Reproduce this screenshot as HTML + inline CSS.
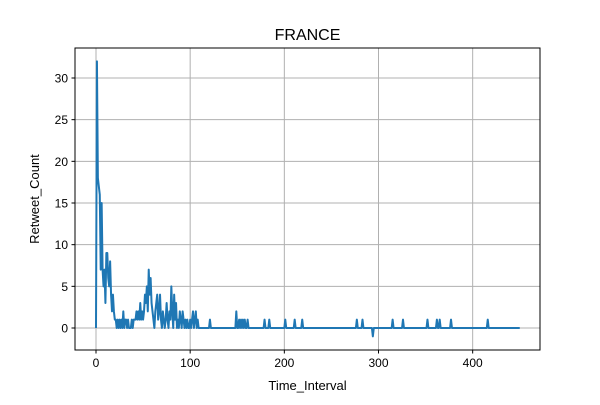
<!DOCTYPE html>
<html><head><meta charset="utf-8"><style>
body{margin:0;background:#fff}
svg text{font-family:"Liberation Sans","DejaVu Sans",sans-serif;fill:#000}
</style></head><body>
<svg id="chart" width="600" height="400" xmlns="http://www.w3.org/2000/svg">
<rect width="600" height="400" fill="#fff"/>
<g id="grid"></g><g id="ticks"></g><g id="series"></g>
<rect x="75" y="48" width="465" height="302" fill="none" stroke="#000" stroke-width="1"/>
<text x="307.5" y="40" text-anchor="middle" font-size="16">FRANCE</text>
<text x="307.5" y="390" text-anchor="middle" font-size="13">Time_Interval</text>
<text x="39" y="199" text-anchor="middle" font-size="13" transform="rotate(-90 39 199)">Retweet_Count</text>
</svg>
<script>
const earlyCounts=[0,32,18,17,16,7,15,7,5,7,3,9,9,6,5,8,4,2,4,2,1,1,0,1,0,1,0,1,0,2,0,1,1,0,1,0,0,0,1,0,1,1,1,2,1,2,1,3,1,2,1,2,4,3,5,2,7,4,6,3,2,1,0,2,3,4,1,2,4,1,0,2,1,0,1,3,1,0,2,1,5,2,0,4,1,3,0,1,0,2,1,0,2,1,0,1,0,1,0,0,1,0,1,2,0,1,2,0,1,0,0,0,0,0,0,0,0,0,0,0,0,1,0,0,0,0,0,0,0,0,0];
const spikeTimes=[149,152,154,156,158,161,179,184,201,211,219,277,283,294,315,326,352,362,365,377,416];
const spikeValues=[2,1,1,1,1,1,1,1,1,1,1,1,1,-1,1,1,1,1,1,1,1];
const xTicks=[0,100,200,300,400];
const yTicks=[0,5,10,15,20,25,30];
const maxT=450;
const X0=75,X1=540,Y0=48,Y1=350;
const xMin=-22.3,xMax=471.5,yMin=-2.64,yMax=33.6;
const sx=v=>X0+(v-xMin)/(xMax-xMin)*(X1-X0);
const sy=v=>Y1-(v-yMin)/(yMax-yMin)*(Y1-Y0);
const NS="http://www.w3.org/2000/svg";
const mk=(t,a,p)=>{const e=document.createElementNS(NS,t);for(const k in a)e.setAttribute(k,a[k]);p.appendChild(e);return e;};
const grid=document.getElementById('grid'),ticks=document.getElementById('ticks'),ser=document.getElementById('series');
xTicks.forEach(v=>{const x=sx(v);
 const g=mk('line',{x1:x,x2:x,y1:Y0,y2:Y1,stroke:'#b0b0b0','stroke-width':1},grid);
 
 
 mk('line',{x1:x,x2:x,y1:Y1,y2:Y1+3.5,stroke:'#000'},ticks);
 const t=mk('text',{x:x,y:Y1+17,'text-anchor':'middle','font-size':12},ticks);t.textContent=v;
 
 
});
yTicks.forEach(v=>{const y=sy(v);
 const g=mk('line',{x1:X0,x2:X1,y1:y,y2:y,stroke:'#b0b0b0','stroke-width':1},grid);
 
 
 mk('line',{x1:X0-3.5,x2:X0,y1:y,y2:y,stroke:'#000'},ticks);
 const t=mk('text',{x:X0-7,y:y+4.5,'text-anchor':'end','font-size':12},ticks);t.textContent=v;
 
 
});
const vals=[];
for(let t=0;t<=maxT;t++)vals.push(t<earlyCounts.length?earlyCounts[t]:0);
spikeTimes.forEach((t,i)=>{vals[t]=spikeValues[i];});
const d=vals.map((v,t)=>(t?'L':'M')+sx(t).toFixed(2)+','+sy(v).toFixed(2)).join('');
const p=mk('path',{d:d,fill:'none',stroke:'#1f77b4','stroke-width':2,'stroke-linejoin':'round'},ser);


</script>
</body></html>
